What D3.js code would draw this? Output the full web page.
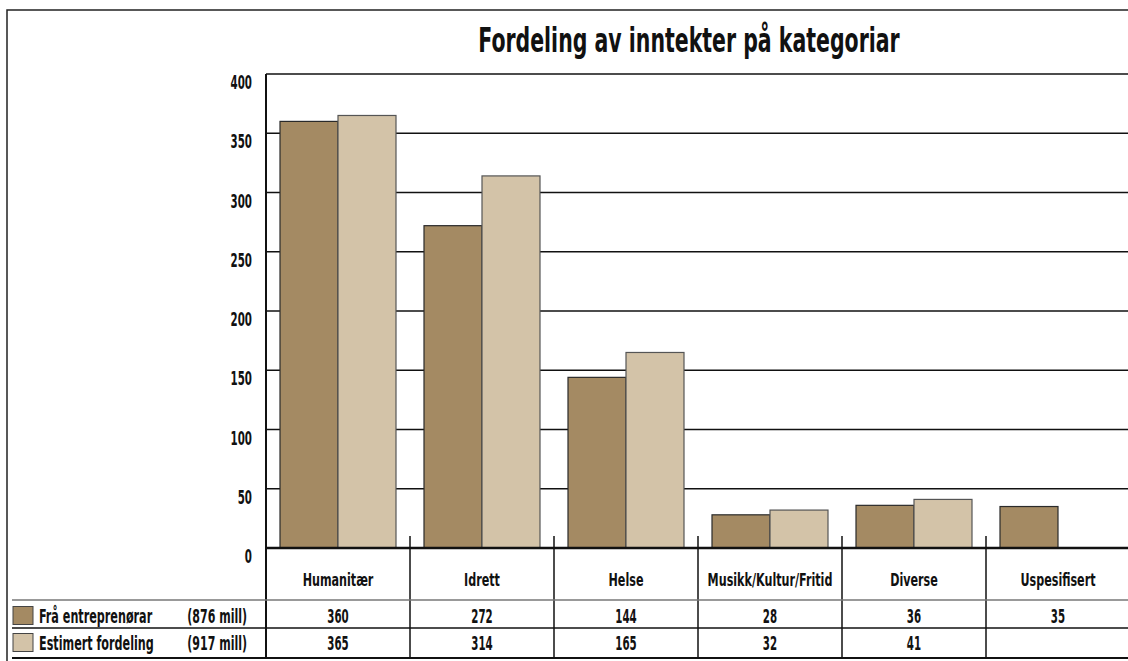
<!DOCTYPE html>
<html>
<head>
<meta charset="utf-8">
<script src="https://cdn.jsdelivr.net/npm/d3@7"></script>
<style>
  body { margin: 0; background: #fff; }
  text { font-family: "Liberation Sans Narrow", "DejaVu Sans Condensed", "DejaVu Sans", sans-serif; font-stretch: condensed; font-weight: bold; fill: #111; }
</style>
</head>
<body>
<div class="layout"></div>
<script>
// data
var categories = ["Humanitær", "Idrett", "Helse", "Musikk/Kultur/Fritid", "Diverse", "Uspesifisert"];
var fraEntreprenorar = [360, 272, 144, 28, 36, 35];
var estimertFordeling = [365, 314, 165, 32, 41, null];
var seriesNames = ["Frå entreprenørar", "Estimert fordeling"];
var seriesTotals = ["(876 mill)", "(917 mill)"];
var seriesColors = ["#a48a63", "#d3c3a8"];
var yTicks = [0, 50, 100, 150, 200, 250, 300, 350, 400];

var W = 1128, H = 661;
var plotLeft = 266, plotTop = 74, base = 548;
var rowCat = 600, row1 = 628, row2 = 658;

// no condensed face installed, so squeeze the glyphs horizontally
function squeeze(px, py, sx) {
        return "translate(" + px + "," + py + ") scale(" + sx + ",1)";
}

var svg = d3.select(".layout").append("svg")
        .attr("width", W)
        .attr("height", H);

// outer frame (left and top only, the rest runs off the picture)
svg.append("path")
        .attr("d", "M7," + H + "V10H" + W)
        .attr("fill", "none")
        .attr("stroke", "#222")
        .attr("stroke-width", 1.5);

var x = d3.scaleBand()
        .domain(categories)
        .range([plotLeft, plotLeft + 144 * categories.length]);

var xInner = d3.scaleBand()
        .domain([0, 1])
        .range([14, 130]);

var y = d3.scaleLinear()
        .domain([0, 400])
        .range([base, plotTop]);

svg.append("text")
        .attr("transform", squeeze(689, 52, 0.69))
        .attr("text-anchor", "middle")
        .style("font-size", "33px")
        .text("Fordeling av inntekter på kategoriar");

// grid
svg.append("g")
        .selectAll("line")
        .data(yTicks.slice(1))
        .join("line")
        .attr("x1", plotLeft)
        .attr("x2", W)
        .attr("y1", function(d) { return y(d); })
        .attr("y2", function(d) { return y(d); })
        .attr("stroke", "#111")
        .attr("stroke-width", 1.5);

// y labels
svg.append("g")
        .selectAll("text")
        .data(yTicks)
        .join("text")
        .attr("transform", function(d) { return squeeze(252, y(d) + 15, 0.6); })
        .attr("text-anchor", "end")
        .style("font-size", "19px")
        .text(function(d) { return d; });

// bars
var series = [fraEntreprenorar, estimertFordeling];
series.forEach(function(vals, s) {
        svg.append("g")
                .selectAll("rect")
                .data(categories.map(function(c, i) { return { cat: c, v: vals[i] }; })
                        .filter(function(d) { return d.v != null; }))
                .join("rect")
                .attr("x", function(d) { return x(d.cat) + xInner(s); })
                .attr("y", function(d) { return y(d.v); })
                .attr("width", xInner.bandwidth())
                .attr("height", function(d) { return base - y(d.v); })
                .attr("fill", seriesColors[s])
                .attr("stroke", s === 0 ? "#2a2a2a" : "#555")
                .attr("stroke-width", 1.2);
});

// column separators of the table, poking above the baseline
svg.append("g")
        .selectAll("line")
        .data(categories.slice(1))
        .join("line")
        .attr("x1", function(d) { return x(d); })
        .attr("x2", function(d) { return x(d); })
        .attr("y1", 536)
        .attr("y2", row2)
        .attr("stroke", "#111")
        .attr("stroke-width", 1.5);

// left axis
svg.append("line")
        .attr("x1", plotLeft).attr("x2", plotLeft)
        .attr("y1", plotTop).attr("y2", row2)
        .attr("stroke", "#111")
        .attr("stroke-width", 2);

// baseline
svg.append("line")
        .attr("x1", plotLeft).attr("x2", W)
        .attr("y1", base).attr("y2", base)
        .attr("stroke", "#111")
        .attr("stroke-width", 2.5);

// table rows
svg.append("line")
        .attr("x1", 12).attr("x2", W)
        .attr("y1", rowCat).attr("y2", rowCat)
        .attr("stroke", "#777")
        .attr("stroke-width", 1.5);
svg.append("line")
        .attr("x1", 12).attr("x2", W)
        .attr("y1", row1).attr("y2", row1)
        .attr("stroke", "#111")
        .attr("stroke-width", 1.5);
svg.append("line")
        .attr("x1", 12).attr("x2", W)
        .attr("y1", row2).attr("y2", row2)
        .attr("stroke", "#111")
        .attr("stroke-width", 2);

// category labels
svg.append("g")
        .selectAll("text")
        .data(categories)
        .join("text")
        .attr("transform", function(d) { return squeeze(x(d) + x.bandwidth() / 2, 586, 0.73); })
        .attr("text-anchor", "middle")
        .style("font-size", "17px")
        .text(function(d) { return d; });

// value rows + legend
var rowY = [623, 650];
series.forEach(function(vals, s) {
        var g = svg.append("g");
        g.selectAll("text")
                .data(categories.map(function(c, i) { return { cat: c, v: vals[i] }; })
                        .filter(function(d) { return d.v != null; }))
                .join("text")
                .attr("transform", function(d) { return squeeze(x(d.cat) + x.bandwidth() / 2, rowY[s], 0.6); })
                .attr("text-anchor", "middle")
                .style("font-size", "19px")
                .text(function(d) { return d.v; });

        g.append("rect")
                .attr("x", 13)
                .attr("y", rowY[s] - 16.5)
                .attr("width", 20)
                .attr("height", 18)
                .attr("fill", seriesColors[s])
                .attr("stroke", "#444")
                .attr("stroke-width", 1);

        g.append("text")
                .attr("transform", squeeze(39, rowY[s], 0.655))
                .style("font-size", "19px")
                .text(seriesNames[s]);

        g.append("text")
                .attr("transform", squeeze(247, rowY[s], 0.645))
                .attr("text-anchor", "end")
                .style("font-size", "19px")
                .text(seriesTotals[s]);
});
</script>
</body>
</html>
